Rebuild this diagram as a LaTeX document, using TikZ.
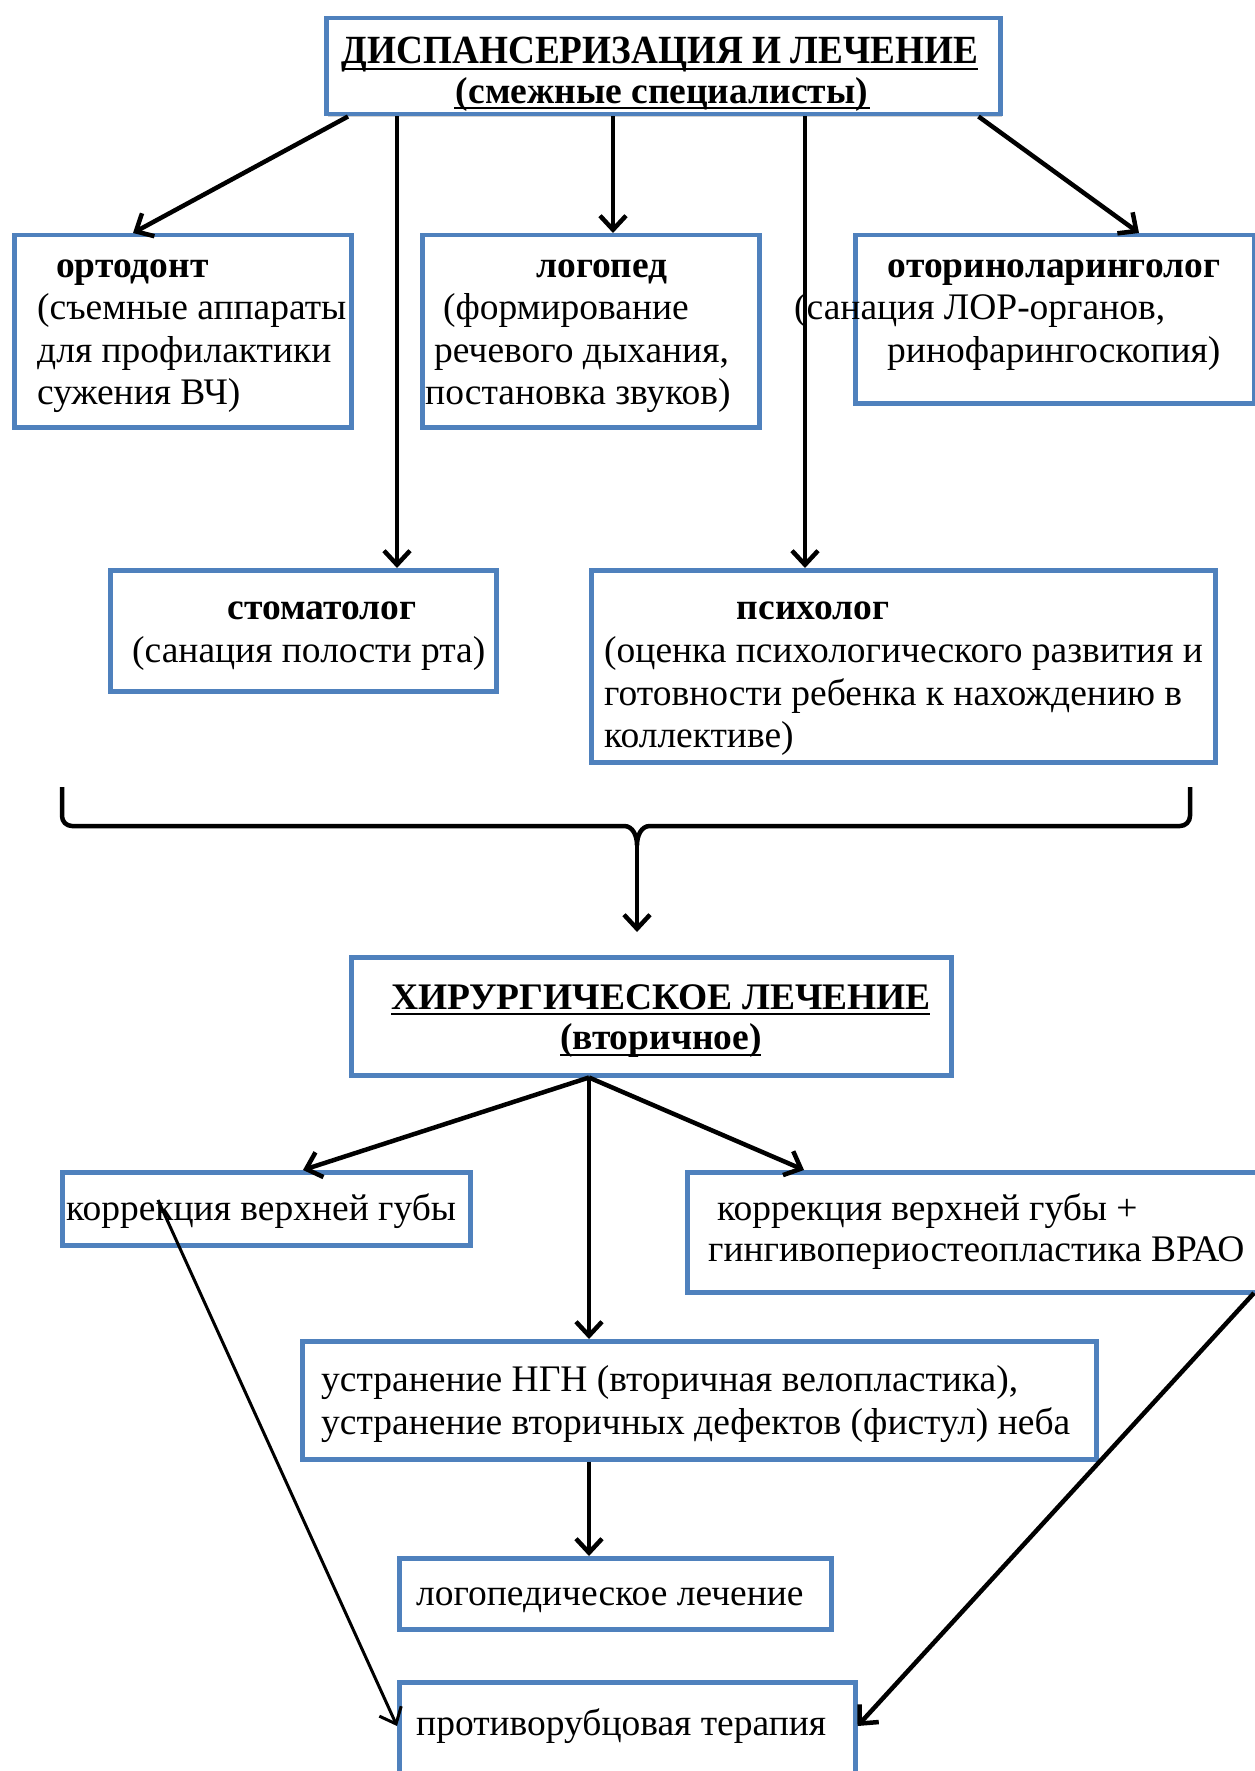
\documentclass[tikz,border=0pt]{standalone}
\usepackage{fontspec}
\setmainfont{Liberation Serif}
\usetikzlibrary{arrows.meta,shadows,calc}
\definecolor{boxblue}{HTML}{4F81BD}
\begin{document}
\begin{tikzpicture}[x=1pt,y=-1pt,
  box/.style={draw=boxblue, line width=4.5pt, fill=white, rectangle, inner sep=0pt, anchor=north west,
    drop shadow={shadow xshift=2pt, shadow yshift=-3pt, opacity=0.3, fill=black!60}},
  txt/.style={anchor=base west, inner sep=0pt, font=\fontsize{37.5}{44}\selectfont},
  ctxt/.style={anchor=base, inner sep=0pt, font=\fontsize{37.5}{44}\selectfont\bfseries},
  arr/.style={line width=4.5pt, -{Straight Barb[length=14pt,width=26pt]}},
  thinarr/.style={line width=3pt, -{Straight Barb[length=14pt,width=24pt]}},
  uline/.style={line width=2.8pt}]
\useasboundingbox (0,0) rectangle (1254,1771);
\fill[white] (0,0) rectangle (1254,1771);

% boxes
\node[box, minimum width=674pt, minimum height=96pt] (top) at (324,16) {};
\node[box, minimum width=337pt, minimum height=192pt] (orto) at (12,233) {};
\node[box, minimum width=337pt, minimum height=192pt] (logo) at (420,233) {};
\node[box, minimum width=399pt, minimum height=168pt] (oto) at (853,233) {};
\node[box, minimum width=386pt, minimum height=121pt] (stom) at (108,568) {};
\node[box, minimum width=624pt, minimum height=192pt] (psy) at (589,568) {};
\node[box, minimum width=600pt, minimum height=118pt] (surg) at (349,955) {};
\node[box, minimum width=408pt, minimum height=73pt] (kor1) at (60,1170) {};
\node[box, minimum width=575pt, minimum height=120pt] (kor2) at (685,1170) {};
\node[box, minimum width=794pt, minimum height=118pt] (ngn) at (300,1339) {};
\node[box, minimum width=432pt, minimum height=71pt] (logo2) at (397,1556) {};
\node[box, minimum width=456pt, minimum height=120pt] (rub) at (397,1680) {};

% title texts
\node[ctxt, font=\fontsize{40}{46}\selectfont\bfseries] (t1) at (660,64) {\resizebox{636pt}{\height}{ДИСПАНСЕРИЗАЦИЯ И ЛЕЧЕНИЕ}};
\node[ctxt] (t2) at (662,104) {(смежные специалисты)};
\draw[uline] (342,69) -- (978,69);
\draw[uline] (454,108) -- (870,108);

% ortodont
\node[txt, font=\fontsize{37.5}{44}\selectfont\bfseries] (o1) at (56,277) {ортодонт};
\node[txt] (o2) at (37,319) {(съемные аппараты};
\node[txt] (o3) at (37,362) {для профилактики};
\node[txt] (o4) at (37,404) {сужения ВЧ)};

% logoped
\node[ctxt] (l1) at (602,277) {логопед};
\node[txt] (l2) at (443,319) {(формирование};
\node[txt] (l3) at (434,362) {речевого дыхания,};
\node[txt] (l4) at (425,404) {постановка звуков)};

% oto
\node[ctxt] (r1) at (1054,277) {оториноларинголог};
\node[txt] (r2) at (794,319) {(санация ЛОР-органов,};
\node[txt] (r3) at (887,362) {ринофарингоскопия)};

% stom
\node[ctxt] (s1) at (322,619) {стоматолог};
\node[txt] (s2) at (132,662) {(санация полости рта)};

% psy
\node[ctxt] (p1) at (813,619) {психолог};
\node[txt] (p2) at (604,662) {(оценка психологического развития и};
\node[txt] (p3) at (604,705) {готовности ребенка к нахождению в};
\node[txt] (p4) at (604,747) {коллективе)};

% surgery
\node[ctxt] (h1) at (661,1009) {ХИРУРГИЧЕСКОЕ ЛЕЧЕНИЕ};
\node[ctxt] (h2) at (661,1049) {(вторичное)};
\draw[uline] (391,1014) -- (930,1014);
\draw[uline] (560,1055) -- (761,1055);

\node[txt] (k1) at (66,1220) {коррекция верхней губы};
\node[txt] (k2) at (717,1220) {коррекция верхней губы +};
\node[txt] (k3) at (708,1261) {гингивопериостеопластика ВРАО};
\node[txt] (n1) at (321,1391) {устранение НГН (вторичная велопластика),};
\node[txt] (n2) at (321,1434) {устранение вторичных дефектов (фистул) неба};
\node[txt] (g1) at (416,1605) {логопедическое лечение};
\node[txt] (u1) at (416,1735) {противорубцовая терапия};

% connectors top
\draw[arr] ([xshift=24pt]top.south west) -- ([xshift=121pt]orto.north west);
\draw[arr] (top.south -| 397,0) -- (stom.north -| 397,0);
\draw[arr] (top.south -| 613,0) -- (logo.north -| 613,0);
\draw[arr] (top.south -| 805,0) -- (psy.north -| 805,0);
\draw[arr] ([xshift=-24pt]top.south east) -- ([xshift=286pt]oto.north west);

% brace
\coordinate (btip) at (637,845);
\coordinate (bend) at (637,932);
\draw[line width=4.5pt, line join=round] (62,787) -- (62,816) to[out=-90,in=180] (72,826) -- (624,826) to[out=0,in=90] (btip)
  to[out=90,in=180] (650,826) -- (1180,826) to[out=0,in=-90] (1190,816) -- (1190,787);
\draw[arr] (btip) -- (bend);

% surgery connectors
\draw[arr] (surg.south -| 589,0) -- ([xshift=243pt]kor1.north west);
\draw[arr] (surg.south -| 589,0) -- (ngn.north -| 589,0);
\draw[arr] (surg.south -| 589,0) -- ([xshift=119pt]kor2.north west);
\draw[arr] (ngn.south -| 589,0) -- (logo2.north -| 589,0);
\draw[thinarr] ([xshift=98pt,yshift=-30pt]kor1.north west) -- ([yshift=-46pt]rub.north west);
\draw[arr] (1254,1293) -- ([yshift=-46pt]rub.north east);
\end{tikzpicture}
\end{document}
